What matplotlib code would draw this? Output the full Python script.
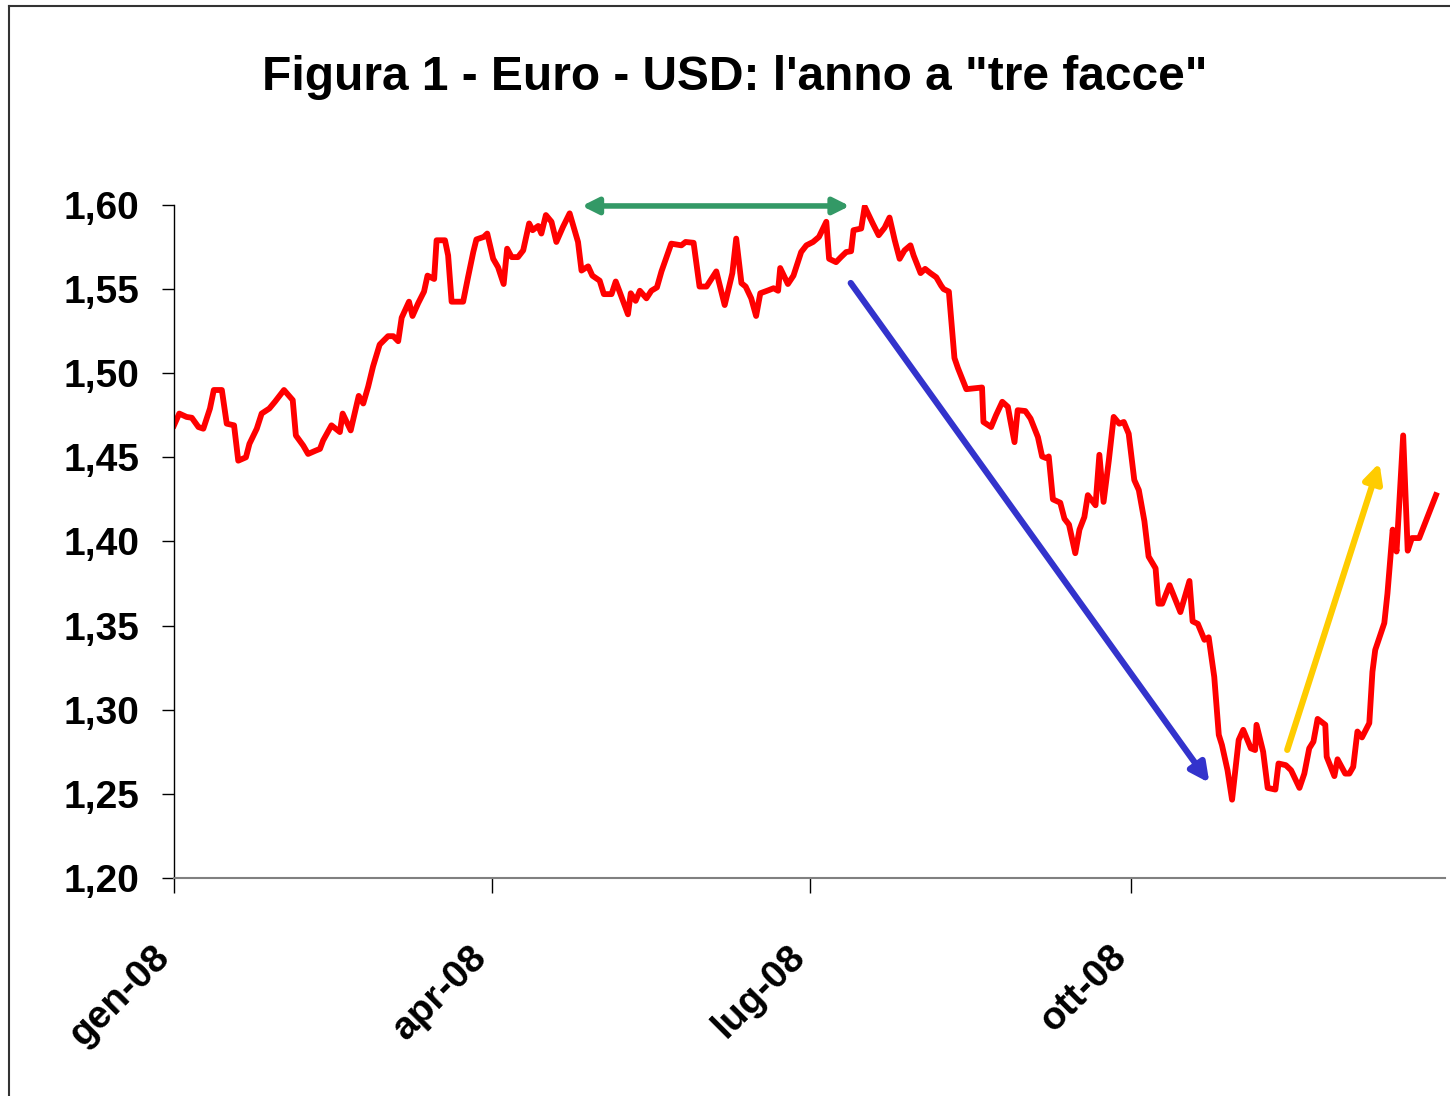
import matplotlib.pyplot as plt
from matplotlib.lines import Line2D
from matplotlib.transforms import ScaledTranslation

plt.rcParams['font.family'] = ['Liberation Sans', 'DejaVu Sans']

# giorni dal 1 gen 2008 e cambio EUR/USD
days = [0, 1.5, 3.6, 5.1, 7.0, 8.4, 10.3, 11.4, 13.7, 15.1, 17.2, 18.4, 20.6, 21.6,
        23.7, 25.1, 27.3, 28.9, 31.5, 34.0, 34.9, 37.0, 38.4, 40.6, 41.8, 42.7, 45.1,
        47.5, 48.3, 50.6, 52.9, 54.2, 55.6, 57.0, 58.9, 61.3, 62.8, 64.2, 65.2, 67.3,
        68.3, 69.9, 71.6, 72.6, 74.5, 75.2, 77.6, 78.5, 79.5, 82.8, 84.2, 85.7, 86.6,
        88.7, 89.7, 91.4, 92.8, 94.4, 95.4, 96.7, 98.5, 100.0, 101.7, 102.7, 104.3,
        105.2, 106.5, 108.1, 109.5, 111.4, 113.3, 115.7, 116.7, 118.6, 119.8, 121.9,
        123.1, 125.3, 126.5, 127.6, 130.0, 130.8, 132.2, 133.4, 135.3, 136.7, 138.3,
        139.6, 142.4, 145.3, 146.5, 148.8, 150.5, 152.5, 155.3, 157.7, 159.9, 161.0,
        162.5, 163.7, 165.3, 166.7, 167.9, 170.5, 171.7, 173.0, 173.6, 175.8, 177.4,
        179.6, 181.1, 183.0, 184.7, 186.8, 187.6, 189.6, 191.0, 192.5, 193.9, 194.6,
        196.8, 197.8, 200.1, 201.8, 203.5, 204.9, 206.4, 207.8, 209.2, 210.9, 211.8,
        213.8, 215.1, 216.6, 218.3, 219.7, 220.4, 221.9, 223.5, 224.5, 226.9, 231.4,
        231.8, 234.0, 235.4, 237.2, 238.8, 239.5, 240.7, 241.6, 243.8, 245.3, 247.4,
        248.6, 249.8, 250.5, 251.7, 253.8, 255.0, 256.3, 258.1, 259.3, 260.7, 261.7,
        263.9, 265.0, 266.2, 267.7, 269.1, 270.7, 272.0, 273.4, 275.0, 276.3, 277.9,
        279.1, 281.1, 281.9, 283.0, 285.1, 288.2, 290.8, 291.7, 293.2, 295.1, 296.3,
        297.9, 299.2, 300.1, 301.7, 303.0, 304.9, 306.2, 308.4, 309.6, 310.0, 311.9,
        313.2, 315.4, 316.3, 318.4, 319.9, 322.3, 323.7, 325.1, 326.3, 327.5, 329.7,
        330.1, 332.3, 333.2, 335.4, 336.6, 337.7, 338.9, 340.2, 342.3, 343.2, 344.0,
        346.6, 347.5, 349.0, 350.1, 352.0, 353.3, 354.5, 356.6, 361.4]
eurusd = [1.469, 1.476, 1.474, 1.4735, 1.468, 1.467, 1.479, 1.490, 1.490, 1.470, 1.469,
          1.448, 1.450, 1.458, 1.467, 1.476, 1.479, 1.483, 1.490, 1.484, 1.463, 1.457,
          1.452, 1.454, 1.455, 1.460, 1.469, 1.465, 1.476, 1.466, 1.4865, 1.482, 1.492,
          1.504, 1.517, 1.522, 1.522, 1.519, 1.533, 1.5425, 1.534, 1.5415, 1.5485,
          1.558, 1.556, 1.579, 1.579, 1.570, 1.5425, 1.5425, 1.557, 1.572, 1.5795,
          1.581, 1.583, 1.568, 1.563, 1.553, 1.574, 1.569, 1.569, 1.573, 1.589, 1.585,
          1.5875, 1.583, 1.594, 1.590, 1.578, 1.587, 1.595, 1.578, 1.561, 1.5635,
          1.558, 1.555, 1.547, 1.547, 1.5545, 1.5485, 1.535, 1.5475, 1.543, 1.549,
          1.5445, 1.549, 1.551, 1.5605, 1.577, 1.576, 1.578, 1.5775, 1.5515, 1.5515,
          1.5605, 1.5405, 1.5595, 1.580, 1.5535, 1.5515, 1.5445, 1.534, 1.5475, 1.5495,
          1.5505, 1.549, 1.5625, 1.553, 1.558, 1.572, 1.576, 1.578, 1.581, 1.590,
          1.568, 1.566, 1.569, 1.572, 1.5725, 1.585, 1.586, 1.599, 1.589, 1.582,
          1.5865, 1.5925, 1.579, 1.568, 1.573, 1.576, 1.570, 1.5595, 1.562, 1.5595,
          1.557, 1.552, 1.550, 1.5485, 1.509, 1.503, 1.4905, 1.4915, 1.471, 1.468,
          1.475, 1.483, 1.480, 1.472, 1.459, 1.478, 1.4775, 1.473, 1.462, 1.4505,
          1.4495, 1.4505, 1.425, 1.423, 1.4135, 1.410, 1.393, 1.407, 1.4145, 1.4275,
          1.4215, 1.4515, 1.4235, 1.448, 1.474, 1.470, 1.471, 1.464, 1.4365, 1.4305,
          1.412, 1.391, 1.384, 1.363, 1.363, 1.374, 1.358, 1.3765, 1.3525, 1.351,
          1.3415, 1.343, 1.3195, 1.285, 1.279, 1.264, 1.2465, 1.282, 1.288, 1.277,
          1.276, 1.291, 1.275, 1.2535, 1.2525, 1.268, 1.267, 1.264, 1.2535, 1.262,
          1.277, 1.281, 1.2945, 1.291, 1.272, 1.2605, 1.2705, 1.262, 1.262, 1.266,
          1.287, 1.2835, 1.292, 1.3225, 1.3355, 1.3515, 1.369, 1.407, 1.394, 1.463,
          1.3945, 1.402, 1.402, 1.4275]

tick_days = [0, 91, 182, 274]
tick_labels = ['gen-08', 'apr-08', 'lug-08', 'ott-08']
y_ticks = [1.20, 1.25, 1.30, 1.35, 1.40, 1.45, 1.50, 1.55, 1.60]

fig = plt.figure(figsize=(14.5, 10.96), dpi=100)
ax = fig.add_axes([0.12, 0.199, 0.8766, 0.614])

ax.plot(days, eurusd, color='#ff0000', lw=4.2)

ax.set_xlim(0, 364)
ax.set_ylim(1.20, 1.60)
ax.set_yticks(y_ticks)
ax.set_yticklabels([f'{v:.2f}'.replace('.', ',') for v in y_ticks])
ax.set_xticks(tick_days)
ax.set_xticklabels(tick_labels, rotation=45, ha='right', va='center',
                   rotation_mode='anchor')

for s in ['top', 'right']:
    ax.spines[s].set_visible(False)
ax.spines['left'].set_color('black')
ax.spines['left'].set_linewidth(1)
ax.spines['bottom'].set_color('#808080')
ax.spines['bottom'].set_linewidth(1.5)
ax.tick_params(axis='y', direction='out', length=9, width=1, pad=16,
               labelsize=28)
ax.tick_params(axis='x', direction='out', length=11, width=1, pad=42,
               labelsize=28)
shift = ScaledTranslation(-0.10, 0, fig.dpi_scale_trans)
for t in ax.get_xticklabels():
    t.set_transform(t.get_transform() + shift)
for t in ax.get_xticklabels() + ax.get_yticklabels():
    t.set_fontweight('bold')

# le tre fasi
ax.annotate('', xy=(116.8, 1.5994), xytext=(193.5, 1.5994),
            arrowprops=dict(arrowstyle='<|-|>', color='#339966', lw=4,
                            mutation_scale=24, shrinkA=0, shrinkB=0))
ax.annotate('', xy=(296.5, 1.2565), xytext=(193.8, 1.5536),
            arrowprops=dict(arrowstyle='-|>', color='#3333cc', lw=4.5,
                            mutation_scale=28, shrinkA=0, shrinkB=0))
ax.annotate('', xy=(345.2, 1.4467), xytext=(318.8, 1.2761),
            arrowprops=dict(arrowstyle='-|>', color='#ffcc00', lw=4.5,
                            mutation_scale=28, shrinkA=0, shrinkB=0))

fig.text(0.507, 1 - 77 / 1096, 'Figura 1 - Euro - USD: l\'anno a "tre facce"',
         ha='center', va='center', fontsize=34.5, fontweight='bold')

# cornice
fig.add_artist(Line2D([9 / 1450, 9 / 1450], [0, 1 - 6 / 1096], color='#333333',
                      lw=1.5, transform=fig.transFigure))
fig.add_artist(Line2D([9 / 1450, 1], [1 - 6 / 1096, 1 - 6 / 1096], color='#333333',
                      lw=1.5, transform=fig.transFigure))

fig.savefig('out.png', dpi=100)
